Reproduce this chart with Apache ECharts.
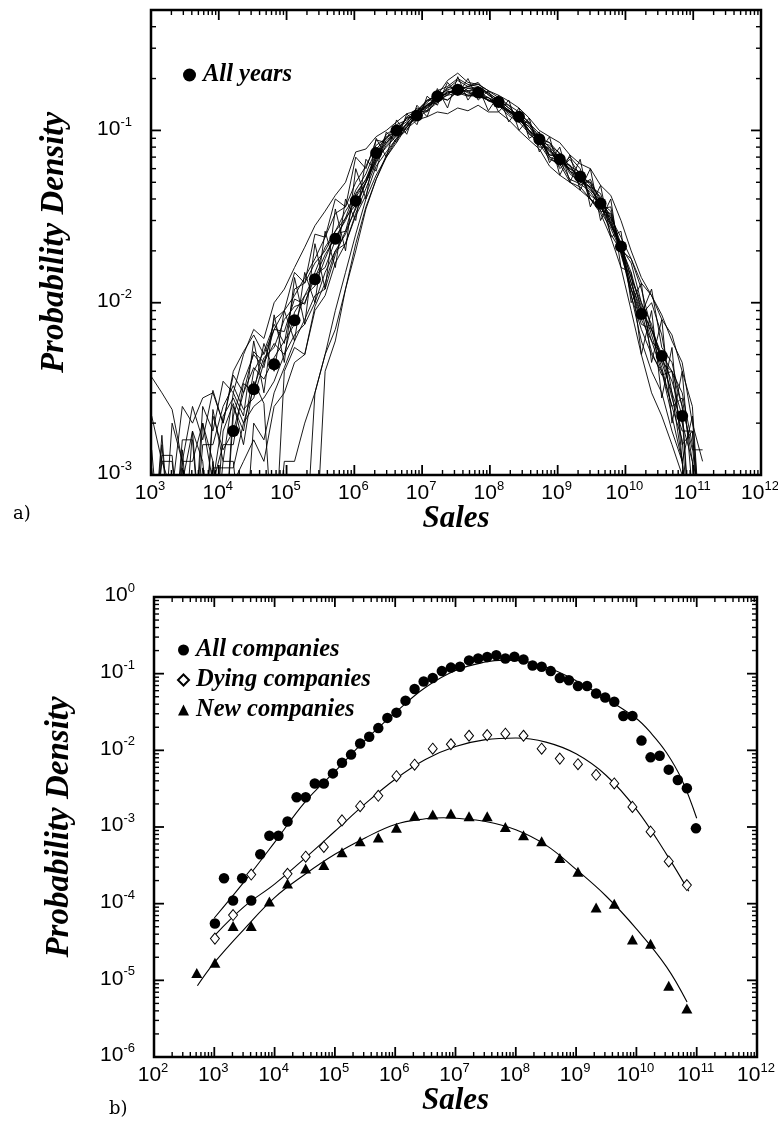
<!DOCTYPE html>
<html>
<head>
<meta charset="utf-8">
<title>Probability density of sales</title>
<script src="https://cdn.jsdelivr.net/npm/echarts@6/dist/echarts.min.js"></script>
<style>
html,body{margin:0;padding:0;background:#ffffff;}
#chart{width:778px;height:1125px;}
</style>
</head>
<body>
<div id="chart"></div>
<script>
// ================= Panel a) =================
// sales bins: sales = 2^exp (half-octave bins for single years)
const yearExp = [10,10.5,11,11.5,12,12.5,13,13.5,14,14.5,15,15.5,16,16.5,17,17.5,18,18.5,19,19.5,20,20.5,21,21.5,22,22.5,23,23.5,24,24.5,25,25.5,26,26.5,27,27.5,28,28.5,29,29.5,30,30.5,31,31.5,32,32.5,33,33.5,34,34.5,35,35.5,36,36.5,37];
// individual years (thin lines); 0.0003 = empty bin (falls below the axis)
const yearA = [0.0037,0.0030,0.0024,0.0012,0.0025,0.0016,0.0031,0.0020,0.0038,0.0030, 0.0052,0.0045,0.0070,0.0068,0.0105,0.0098,0.015,0.021,0.026,0.031, 0.045,0.056,0.078,0.090,0.100,0.118,0.125,0.138,0.150,0.160, 0.165,0.158,0.160,0.150,0.140,0.128,0.118,0.100,0.090,0.076, 0.070,0.058,0.052,0.047,0.036,0.031,0.020,0.012,0.0075,0.0070, 0.0045,0.0030,0.0020,0.0012,0.0003];
const yearB = [0.0003,0.0015,0.0003,0.0009,0.0018,0.0003,0.0024,0.0012,0.0030,0.0022, 0.0060,0.0030,0.0085,0.0045,0.0140,0.0075,0.0220,0.012,0.035,0.020, 0.060,0.040,0.090,0.070,0.115,0.095,0.140,0.120,0.175,0.135, 0.205,0.150,0.180,0.130,0.160,0.112,0.135,0.090,0.098,0.065, 0.080,0.050,0.068,0.036,0.048,0.024,0.026,0.010,0.013,0.0045, 0.0080,0.0020,0.0040,0.0008,0.0003];
const yearC = [0.0011,0.0003,0.0003,0.0012,0.0012,0.0020,0.0012,0.0003,0.0025,0.0018, 0.0040,0.0052,0.0075,0.0058,0.0120,0.0130,0.0170,0.020,0.026,0.034, 0.042,0.052,0.070,0.092,0.098,0.108,0.130,0.148,0.160,0.172, 0.180,0.176,0.175,0.162,0.145,0.140,0.115,0.110,0.092,0.072, 0.072,0.056,0.050,0.050,0.034,0.033,0.021,0.015,0.0090,0.0052, 0.0038,0.0040,0.0015,0.0018,0.0003];
const yearD = [0.0003,0.0012,0.0012,0.0003,0.0003,0.0020,0.0009,0.0015,0.0015,0.0034, 0.0030,0.0058,0.0040,0.0090,0.0060,0.0150,0.0100,0.026,0.016,0.040, 0.030,0.068,0.058,0.098,0.085,0.125,0.108,0.158,0.140,0.190, 0.160,0.200,0.150,0.170,0.128,0.150,0.100,0.118,0.075,0.092, 0.055,0.072,0.045,0.060,0.030,0.040,0.016,0.015,0.0050,0.0090, 0.0028,0.0055,0.0012,0.0022,0.0003];
const yearE = [0.0003,0.0003,0.0003,0.0016,0.0016,0.0003,0.0009,0.0022,0.0028,0.0020, 0.0032,0.0048,0.0055,0.0080,0.0095,0.0100,0.0140,0.019,0.024,0.030, 0.041,0.050,0.072,0.095,0.104,0.112,0.135,0.130,0.170,0.180, 0.200,0.185,0.180,0.165,0.150,0.135,0.120,0.095,0.086,0.082, 0.074,0.058,0.048,0.052,0.038,0.025,0.020,0.018,0.013,0.0110, 0.0085,0.0060,0.0045,0.0020,0.0012];
const yearF = [0.0003,0.0010,0.0003,0.0014,0.0003,0.0003,0.0012,0.0003,0.0022,0.0035, 0.0050,0.0042,0.0080,0.0090,0.0150,0.0130,0.025,0.024,0.040,0.036, 0.070,0.060,0.088,0.085,0.100,0.118,0.120,0.150,0.160,0.195, 0.215,0.190,0.185,0.170,0.155,0.140,0.128,0.110,0.096,0.070, 0.062,0.070,0.060,0.040,0.035,0.036,0.019,0.012,0.0080,0.0060, 0.0050,0.0028,0.0018,0.0018,0.0003];
const yearG = [0.0003,0.0003,0.0003,0.0003,0.0003,0.0011,0.0003,0.0012,0.0012,0.0003, 0.0020,0.0016,0.0030,0.0042,0.0060,0.0080,0.0110,0.012,0.019,0.026, 0.035,0.050,0.066,0.085,0.095,0.120,0.130,0.128,0.150,0.175, 0.195,0.180,0.190,0.160,0.148,0.130,0.118,0.105,0.088,0.072, 0.070,0.062,0.052,0.045,0.039,0.032,0.022,0.014,0.0100,0.0065, 0.0042,0.0025,0.0028,0.0012,0.0003];
const yearH = [0.0003,0.0003,0.0003,0.0003,0.0008,0.0003,0.0003,0.0003,0.0009,0.0012, 0.0016,0.0012,0.0025,0.0030,0.0045,0.0050,0.0090,0.011,0.017,0.022, 0.032,0.042,0.062,0.075,0.090,0.110,0.128,0.145,0.165,0.160, 0.185,0.170,0.172,0.150,0.142,0.128,0.124,0.100,0.090,0.085, 0.068,0.060,0.055,0.040,0.036,0.029,0.020,0.013,0.0085,0.0100, 0.0065,0.0030,0.0012,0.0003,0.0003];
const yearI = [0.0003,0.0003,0.0003,0.0003,0.0003,0.0003,0.0003,0.0003,0.0003,0.0003, 0.0003,0.0003,0.0003,0.0003,0.0003,0.0003,0.0030,0.0050,0.009,0.015, 0.025,0.040,0.055,0.070,0.085,0.105,0.120,0.135,0.150,0.165, 0.170,0.180,0.175,0.165,0.150,0.135,0.122,0.108,0.090,0.080, 0.069,0.058,0.054,0.046,0.037,0.030,0.021,0.013,0.0090,0.0070, 0.0048,0.0035,0.0022,0.0003,0.0003];
const yearJ = [0.0003,0.0003,0.0003,0.0003,0.0003,0.0003,0.0003,0.0003,0.0003,0.0010, 0.0003,0.0010,0.0003,0.0012,0.0012,0.0020,0.0030,0.0050,0.0070,0.012, 0.020,0.035,0.052,0.070,0.088,0.105,0.125,0.140,0.158,0.150, 0.168,0.170,0.160,0.155,0.145,0.128,0.117,0.100,0.087,0.075, 0.066,0.060,0.053,0.050,0.040,0.031,0.024,0.018,0.0120,0.0070, 0.0050,0.0040,0.0030,0.0015,0.0003];
const yearK = [0.0022,0.0012,0.0008,0.0025,0.0020,0.0028,0.0030,0.0020,0.0040,0.0052, 0.0065,0.0050,0.0070,0.0090,0.0110,0.0140,0.0180,0.024,0.033,0.036, 0.050,0.062,0.082,0.090,0.108,0.115,0.130,0.140,0.155,0.150, 0.170,0.160,0.165,0.148,0.142,0.125,0.116,0.105,0.088,0.070, 0.067,0.052,0.049,0.044,0.036,0.028,0.022,0.011,0.0070,0.0050, 0.0040,0.0025,0.0016,0.0003,0.0003];
const yearL = [0.0003,0.0013,0.0013,0.0003,0.0003,0.0015,0.0015,0.0025,0.0033,0.0024, 0.0028,0.0045,0.0058,0.0050,0.0088,0.0110,0.0125,0.018,0.025,0.026, 0.043,0.052,0.074,0.084,0.099,0.104,0.122,0.142,0.150,0.178, 0.178,0.165,0.160,0.150,0.148,0.130,0.121,0.098,0.089,0.085, 0.073,0.062,0.057,0.048,0.041,0.028,0.021,0.017,0.0100,0.0075, 0.0045,0.0040,0.0025,0.0014,0.0014];
const yearM = [0.0014,0.0003,0.0003,0.0010,0.0010,0.0003,0.0022,0.0014,0.0018,0.0030, 0.0042,0.0036,0.0048,0.0060,0.0075,0.0110,0.0145,0.016,0.023,0.031, 0.037,0.050,0.068,0.088,0.097,0.102,0.115,0.120,0.128,0.125, 0.135,0.130,0.140,0.128,0.128,0.115,0.100,0.088,0.078,0.062, 0.055,0.050,0.045,0.040,0.033,0.024,0.016,0.0090,0.0050,0.0030, 0.0022,0.0015,0.0010,0.0003,0.0003];
const yearN = [0.0003,0.0003,0.0003,0.0011,0.0003,0.0003,0.0011,0.0011,0.0011,0.0020, 0.0025,0.0028,0.0035,0.0050,0.0065,0.0075,0.0100,0.015,0.020,0.025, 0.036,0.050,0.068,0.080,0.093,0.110,0.126,0.136,0.155,0.165, 0.172,0.180,0.186,0.170,0.160,0.148,0.135,0.118,0.100,0.092, 0.085,0.072,0.064,0.060,0.048,0.042,0.030,0.020,0.0140,0.0110, 0.0080,0.0065,0.0040,0.0025,0.0003];
const yearO = [0.0003,0.0003,0.0003,0.0003,0.0003,0.0003,0.0003,0.0003,0.0003,0.0003, 0.0003,0.0003,0.0003,0.0003,0.0003,0.0003,0.0003,0.0040,0.0060,0.012, 0.022,0.036,0.052,0.072,0.090,0.100,0.125,0.140,0.145,0.170, 0.160,0.176,0.168,0.155,0.140,0.132,0.115,0.100,0.080,0.080, 0.060,0.068,0.055,0.042,0.038,0.034,0.020,0.012,0.0085,0.0120, 0.0055,0.0045,0.0025,0.0003,0.0003];
const yearP = [0.0003,0.0017,0.0003,0.0003,0.0018,0.0012,0.0003,0.0018,0.0026,0.0015, 0.0035,0.0026,0.0003,0.0040,0.0055,0.0050,0.0095,0.013,0.020,0.022, 0.033,0.046,0.065,0.082,0.094,0.108,0.118,0.130,0.145,0.162, 0.175,0.168,0.155,0.155,0.138,0.130,0.125,0.112,0.084,0.078, 0.064,0.063,0.050,0.047,0.043,0.029,0.021,0.014,0.0095,0.0060, 0.0040,0.0022,0.0012,0.0003,0.0003];
const yearQ = [0.0003,0.0003,0.0020,0.0012,0.0003,0.0025,0.0018,0.0035,0.0030,0.0050, 0.0070,0.0062,0.0100,0.0120,0.0160,0.021,0.028,0.034,0.042,0.050, 0.075,0.078,0.092,0.100,0.112,0.125,0.130,0.150,0.150,0.168, 0.170,0.160,0.158,0.150,0.140,0.122,0.112,0.096,0.084,0.068, 0.064,0.050,0.047,0.040,0.034,0.027,0.020,0.011,0.0060,0.0040, 0.0030,0.0018,0.0012,0.0003,0.0003];
const yearSeriesList = [yearA,yearB,yearC,yearD,yearE,yearF,yearG,yearH,yearI,yearJ,yearK,yearL,yearM,yearN,yearO,yearP,yearQ];

// all years pooled (dots), octave bins
const allYearsExp = [14,15,16,17,18,19,20,21,22,23,24,25,26,27,28,29,30,31,32,33,34,35,36];
const allYears = [0.0018,0.00315,0.0044,0.0079,0.0137,0.0235,0.039,0.074,0.100,0.122,0.158,0.172,0.166,0.146,0.120,0.089,0.068,0.054,0.0377,0.0212,0.0086,0.0049,0.0022];

// ================= Panel b) =================
const allCompExp = [10,10.5,11,11.5,12,12.5,13,13.5,14,14.5,15,15.5,16,16.5,17,17.5,18,18.5,19,19.5,20,20.5,21,21.5,22,22.5,23,23.5,24,24.5,25,25.5,26,26.5,27,27.5,28,28.5,29,29.5,30,30.5,31,31.5,32,32.5,33,33.5,34,34.5,35,35.5,36,36.5];
const allComp = [5.5e-5,2.15e-4,1.1e-4,2.15e-4,1.1e-4,4.4e-4,7.7e-4,7.7e-4,1.18e-3,2.45e-3,2.45e-3,3.7e-3,3.7e-3,5.0e-3,6.9e-3,8.8e-3,1.23e-2,1.5e-2,1.95e-2,2.65e-2,3.1e-2,4.45e-2,6.3e-2,7.9e-2,8.8e-2,0.108,0.120,0.123,0.149,0.158,0.165,0.174,0.158,0.166,0.153,0.128,0.123,0.108,0.088,0.082,0.069,0.069,0.055,0.049,0.043,0.028,0.028,0.0134,0.0081,0.0085,0.0056,0.0041,0.0032,0.00096];
const dyingExp = [10,11,12,14,15,16,17,18,19,20,21,22,23,24,25,26,27,28,29,30,31,32,33,34,35,36];
const dying = [3.5e-5,7.1e-5,2.4e-4,2.45e-4,4.1e-4,5.5e-4,1.22e-3,1.87e-3,2.55e-3,4.6e-3,6.5e-3,1.05e-2,1.2e-2,1.55e-2,1.58e-2,1.65e-2,1.55e-2,1.05e-2,7.8e-3,6.6e-3,4.8e-3,3.7e-3,1.83e-3,8.7e-4,3.55e-4,1.75e-4];
const newExp = [9,10,11,12,13,14,15,16,17,18,19,20,21,22,23,24,25,26,27,28,29,30,31,32,33,34,35,36];
const newComp = [1.25e-5,1.7e-5,5.1e-5,5.1e-5,1.07e-4,1.83e-4,2.87e-4,3.2e-4,4.7e-4,6.5e-4,7.3e-4,9.8e-4,1.4e-3,1.46e-3,1.5e-3,1.38e-3,1.38e-3,1.0e-3,7.8e-4,6.5e-4,3.95e-4,2.6e-4,8.9e-5,1.0e-4,3.4e-5,3.0e-5,8.5e-6,4.3e-6];

// fitted curves, sampled along log10(sales)
const allFitLog = [3.0,3.5,4.0,4.5,5.0,5.5,6.0,6.5,7.0,7.5,7.8,8.0,8.5,9.0,9.5,10.0,10.25,10.5,10.75,11.0];
const allFit = [6.5e-5,1.95e-4,6.3e-4,2.1e-3,5.3e-3,1.35e-2,3.1e-2,6.6e-2,0.110,0.142,0.150,0.149,0.122,0.081,0.047,0.026,0.0165,0.0093,0.0042,0.0013];
const dyingFitLog = [3.0,3.5,4.0,4.5,5.0,5.5,6.0,6.5,7.0,7.5,8.0,8.5,9.0,9.5,10.0,10.5,10.87];
const dyingFit = [3.8e-5,9.2e-5,1.8e-4,3.9e-4,8.8e-4,2.0e-3,4.2e-3,7.6e-3,1.12e-2,1.38e-2,1.45e-2,1.28e-2,9.0e-3,4.7e-3,1.7e-3,4.4e-4,1.45e-4];
const newFitLog = [2.72,3.0,3.5,4.0,4.5,5.0,5.5,6.0,6.5,6.8,7.0,7.5,8.0,8.5,9.0,9.5,10.0,10.5,10.84];
const newFit = [8.5e-6,1.7e-5,4.7e-5,1.2e-4,2.4e-4,4.4e-4,7.2e-4,1.08e-3,1.28e-3,1.32e-3,1.3e-3,1.18e-3,9.2e-4,5.8e-4,2.8e-4,1.25e-4,4.7e-5,1.5e-5,5.2e-6];

// tick labels (decade exponents)
const xTickA = [3,4,5,6,7,8,9,10,11,12];
const yTickA = [-3,-2,-1];
const xTickB = [2,3,4,5,6,7,8,9,10,11,12];
const yTickB = [-6,-5,-4,-3,-2,-1,0];

// axis ranges
const rangeA = {xMin:1e3, xMax:1e12, yMin:1e-3, yMax:0.5};
const rangeB = {xMin:1e2, xMax:1e12, yMin:1e-6, yMax:1};

// ---------- build ----------
const pow2 = (exps, vals) => exps.map((e, i) => [Math.pow(2, e), vals[i]]);
const pow10 = (exps, vals) => exps.map((e, i) => [Math.pow(10, e), vals[i]]);

const serifBI = {fontFamily:'Liberation Serif', fontStyle:'italic', fontWeight:'bold', color:'#000'};

function logAxis(grid, min, max, name, nameGap, isY, nameSize) {
  return {
    type:'log', logBase:10, gridIndex:grid, min:min, max:max,
    axisLine:{show:false}, axisTick:{show:false}, axisLabel:{show:false},
    splitLine:{show:false}, minorTick:{show:false}, minorSplitLine:{show:false},
    name:name, nameLocation:'middle', nameGap:nameGap, nameRotate: isY ? 90 : 0,
    nameTextStyle:Object.assign({fontSize:nameSize}, serifBI)
  };
}

const series = [];
yearSeriesList.forEach((vals, i) => {
  series.push({
    name:'year ' + (i + 1), type:'line', xAxisIndex:0, yAxisIndex:0,
    data:pow2(yearExp, vals), showSymbol:false, symbol:'none', clip:true, silent:true,
    lineStyle:{color:'#000', width:0.9, opacity:1}, z:2
  });
});
series.push({
  name:'All years', type:'scatter', xAxisIndex:0, yAxisIndex:0,
  data:pow2(allYearsExp, allYears), symbol:'circle', symbolSize:12,
  itemStyle:{color:'#000', opacity:1}, z:5
});
const fitStyle = {color:'#000', width:1.1, opacity:1};
series.push({name:'fit all', type:'line', xAxisIndex:1, yAxisIndex:1, data:pow10(allFitLog, allFit), smooth:0.4, showSymbol:false, symbol:'none', lineStyle:fitStyle, silent:true, z:2});
series.push({name:'fit dying', type:'line', xAxisIndex:1, yAxisIndex:1, data:pow10(dyingFitLog, dyingFit), smooth:0.4, showSymbol:false, symbol:'none', lineStyle:fitStyle, silent:true, z:2});
series.push({name:'fit new', type:'line', xAxisIndex:1, yAxisIndex:1, data:pow10(newFitLog, newFit), smooth:0.4, showSymbol:false, symbol:'none', lineStyle:fitStyle, silent:true, z:2});
series.push({name:'All companies', type:'scatter', xAxisIndex:1, yAxisIndex:1, data:pow2(allCompExp, allComp), symbol:'circle', symbolSize:10.5, itemStyle:{color:'#000', opacity:1}, z:5});
series.push({name:'Dying companies', type:'scatter', xAxisIndex:1, yAxisIndex:1, data:pow2(dyingExp, dying), symbol:'diamond', symbolSize:[9,11], itemStyle:{color:'#fff', borderColor:'#000', borderWidth:1, opacity:1}, z:5});
series.push({name:'New companies', type:'scatter', xAxisIndex:1, yAxisIndex:1, data:pow2(newExp, newComp), symbol:'triangle', symbolSize:[11,10], itemStyle:{color:'#000', opacity:1}, z:5});

const legendText = Object.assign({fontSize:24.5, lineHeight:26, padding:[0,0,0,2]}, serifBI);

const option = {
  animation:false,
  backgroundColor:'#ffffff',
  title:[
    {text:'a)', left:8, top:500, textStyle:{fontFamily:'DejaVu Serif', fontWeight:'normal', fontSize:18, color:'#000'}},
    {text:'b)', left:104, top:1095, textStyle:{fontFamily:'DejaVu Serif', fontWeight:'normal', fontSize:18, color:'#000'}}
  ],
  grid:[
    {left:151, top:10, width:610, height:465, show:true, borderColor:'#000', borderWidth:2.5, backgroundColor:'transparent', containLabel:false},
    {left:154, top:597, width:603, height:460, show:true, borderColor:'#000', borderWidth:2.5, backgroundColor:'transparent', containLabel:false}
  ],
  xAxis:[
    logAxis(0, rangeA.xMin, rangeA.xMax, 'Sales', 28, false, 31),
    logAxis(1, rangeB.xMin, rangeB.xMax, 'Sales', 28, false, 31)
  ],
  yAxis:[
    logAxis(0, rangeA.yMin, rangeA.yMax, 'Probability Density', 80, true, 33),
    logAxis(1, rangeB.yMin, rangeB.yMax, 'Probability Density', 78, true, 33)
  ],
  legend:[
    {data:['All years'], left:178, top:57, orient:'vertical', itemWidth:13, itemHeight:13, itemGap:4, textStyle:legendText, selectedMode:false},
    {data:['All companies','Dying companies','New companies'], left:172, top:632, orient:'vertical', itemWidth:11, itemHeight:11, itemGap:4, textStyle:legendText, selectedMode:false}
  ],
  series:series
};

const chart = echarts.init(document.getElementById('chart'), null, {renderer:'canvas'});
chart.setOption(option);

// ---------- frame ticks (inward, on all four sides) and decade labels ----------
function tickLine(x1, y1, x2, y2, w) {
  return {type:'line', silent:true, z:20, shape:{x1:x1, y1:y1, x2:x2, y2:y2}, style:{stroke:'#000', lineWidth:w}};
}
function decadeLabel(x, y, e, align, vAlign) {
  return {type:'text', silent:true, z:20, x:x, y:y, style:{
    text:'{b|10}{s|' + e + '}', align:align, verticalAlign:vAlign,
    rich:{
      b:{fontSize:21, fontFamily:'Liberation Sans', fill:'#000', lineHeight:24, verticalAlign:'bottom'},
      s:{fontSize:13, fontFamily:'Liberation Sans', fill:'#000', lineHeight:13, verticalAlign:'top'}
    }}};
}
function decor(g, r, xTicks, yTicks) {
  const els = [];
  const lo = chart.convertToPixel({gridIndex:g}, [r.xMin, r.yMin]);
  const hi = chart.convertToPixel({gridIndex:g}, [r.xMax, r.yMax]);
  const left = lo[0], bottom = lo[1], right = hi[0], top = hi[1];
  const majorLen = 10, minorLen = 5;
  for (let d = Math.floor(Math.log10(r.xMin)); d <= Math.ceil(Math.log10(r.xMax)); d++) {
    for (let m = 1; m <= 9; m++) {
      const v = m * Math.pow(10, d);
      if (v < r.xMin * 0.999 || v > r.xMax * 1.001) continue;
      const x = chart.convertToPixel({gridIndex:g}, [v, r.yMin])[0];
      const len = m === 1 ? majorLen : minorLen;
      const w = m === 1 ? 1.8 : 1.4;
      els.push(tickLine(x, bottom, x, bottom - len, w));
      els.push(tickLine(x, top, x, top + len, w));
    }
  }
  for (let d = Math.floor(Math.log10(r.yMin)); d <= Math.ceil(Math.log10(r.yMax)); d++) {
    for (let m = 1; m <= 9; m++) {
      const v = m * Math.pow(10, d);
      if (v < r.yMin * 0.999 || v > r.yMax * 1.001) continue;
      const y = chart.convertToPixel({gridIndex:g}, [r.xMin, v])[1];
      const len = m === 1 ? majorLen : minorLen;
      const w = m === 1 ? 1.8 : 1.4;
      els.push(tickLine(left, y, left + len, y, w));
      els.push(tickLine(right, y, right - len, y, w));
    }
  }
  xTicks.forEach(e => {
    const x = chart.convertToPixel({gridIndex:g}, [Math.pow(10, e), r.yMin])[0];
    els.push(decadeLabel(x - 1, bottom + 5, e, 'center', 'top'));
  });
  yTicks.forEach(e => {
    const y = chart.convertToPixel({gridIndex:g}, [r.xMin, Math.pow(10, e)])[1];
    els.push(decadeLabel(left - 19, y - 3, e, 'right', 'middle'));
  });
  return els;
}
chart.setOption({graphic:{elements: decor(0, rangeA, xTickA, yTickA).concat(decor(1, rangeB, xTickB, yTickB))}});
</script>
</body>
</html>
